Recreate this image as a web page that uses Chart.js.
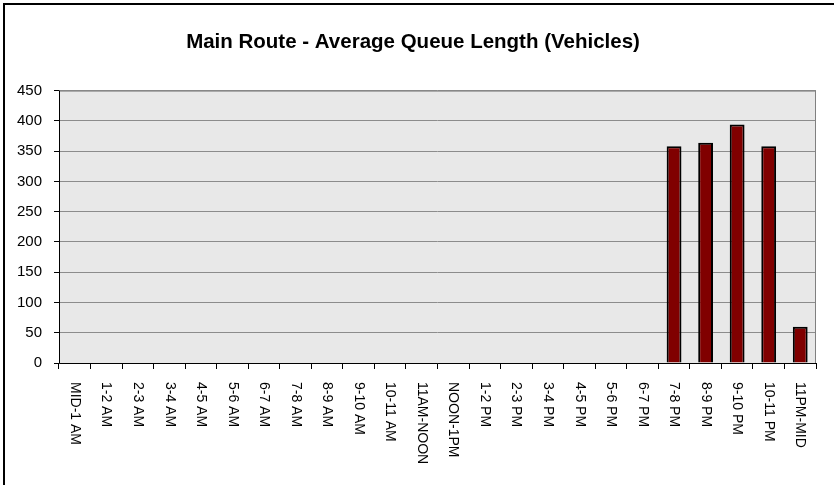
<!DOCTYPE html>
<html>
<head>
<meta charset="utf-8">
<script src="https://cdn.jsdelivr.net/npm/chart.js@4.4.0/dist/chart.umd.min.js"></script>
<style>
  html, body { margin: 0; padding: 0; background: #fff; }
  #wrap { width: 834px; height: 485px; }
</style>
</head>
<body>
<div id="wrap"><canvas id="queue"></canvas></div>
<script>
const hours = ['MID-1 AM', '1-2 AM', '2-3 AM', '3-4 AM', '4-5 AM', '5-6 AM', '6-7 AM',
  '7-8 AM', '8-9 AM', '9-10 AM', '10-11 AM', '11AM-NOON', 'NOON-1PM', '1-2 PM',
  '2-3 PM', '3-4 PM', '4-5 PM', '5-6 PM', '6-7 PM', '7-8 PM', '8-9 PM', '9-10 PM',
  '10-11 PM', '11PM-MID'];
const queueLength = [0, 0, 0, 0, 0, 0, 0, 0, 0, 0, 0, 0, 0, 0, 0, 0, 0, 0, 0,
  358, 364, 394, 358, 60];
const yTicks = [0, 50, 100, 150, 200, 250, 300, 350, 400, 450];

const FONT = '"Liberation Sans", Arial, sans-serif';

// frame + grey plot area
const backdrop = {
  id: 'backdrop',
  beforeDraw(chart) {
    const { ctx, chartArea: a } = chart;
    ctx.save();
    ctx.fillStyle = '#fff';
    ctx.fillRect(0, 0, chart.width, chart.height);
    ctx.strokeStyle = '#000';
    ctx.lineWidth = 2;
    ctx.strokeRect(4, 4, chart.width + 10, chart.height + 10);
    ctx.fillStyle = '#e8e8e8';
    ctx.fillRect(a.left, a.top, a.right - a.left, a.bottom - a.top);
    ctx.restore();
  },
  afterDatasetsDraw(chart) {
    const { ctx, chartArea: a } = chart;
    ctx.save();
    ctx.strokeStyle = '#808080';
    ctx.lineWidth = 1;
    ctx.strokeRect(a.left + 0.5, a.top + 0.5, a.right - a.left - 1, a.bottom - a.top);
    ctx.strokeStyle = '#000';
    ctx.beginPath();
    ctx.moveTo(a.left + 0.5, a.top);
    ctx.lineTo(a.left + 0.5, a.bottom + 0.5);
    ctx.lineTo(a.right, a.bottom + 0.5);
    ctx.stroke();
    ctx.restore();
  }
};

// category labels read top-to-bottom
const downLabels = {
  id: 'downLabels',
  afterDraw(chart) {
    const { ctx, chartArea: a } = chart;
    const xs = chart.scales.x;
    ctx.save();
    ctx.fillStyle = '#000';
    ctx.font = '14px ' + FONT;
    ctx.textAlign = 'left';
    ctx.textBaseline = 'middle';
    hours.forEach((h, i) => {
      ctx.save();
      ctx.translate(xs.getPixelForTick(i), a.bottom + 19);
      ctx.rotate(Math.PI / 2);
      ctx.fillText(h, 0, 0);
      ctx.restore();
    });
    ctx.restore();
  }
};

new Chart(document.getElementById('queue'), {
  type: 'bar',
  data: {
    labels: hours,
    datasets: [{
      data: queueLength,
      backgroundColor: '#800000',
      borderColor: '#000',
      borderWidth: 2,
      barPercentage: 0.47,
      categoryPercentage: 1
    }]
  },
  options: {
    responsive: true,
    maintainAspectRatio: false,
    animation: false,
    layout: { padding: { top: 10, left: 10, right: 18, bottom: 0 } },
    scales: {
      x: {
        grid: { drawOnChartArea: false, drawTicks: true, tickLength: 6, color: '#000', offset: true },
        border: { display: false },
        ticks: { display: false },
        afterFit(s) { s.height = 122; }
      },
      y: {
        min: 0,
        max: 450,
        afterBuildTicks(s) { s.ticks = yTicks.map(v => ({ value: v })); },
        grid: { color: '#8c8c8c', tickLength: 5, tickColor: '#000' },
        border: { display: false },
        ticks: { color: '#000', font: { family: FONT, size: 15 }, padding: 12 },
        afterFit(s) { s.width = 49; }
      }
    },
    plugins: {
      legend: { display: false },
      tooltip: { enabled: false },
      title: {
        display: true,
        text: 'Main Route - Average Queue Length (Vehicles)',
        color: '#000',
        font: { family: FONT, size: 20.5, weight: 'bold' },
        padding: { top: 20, bottom: 36 }
      }
    }
  },
  plugins: [backdrop, downLabels]
});
</script>
</body>
</html>
